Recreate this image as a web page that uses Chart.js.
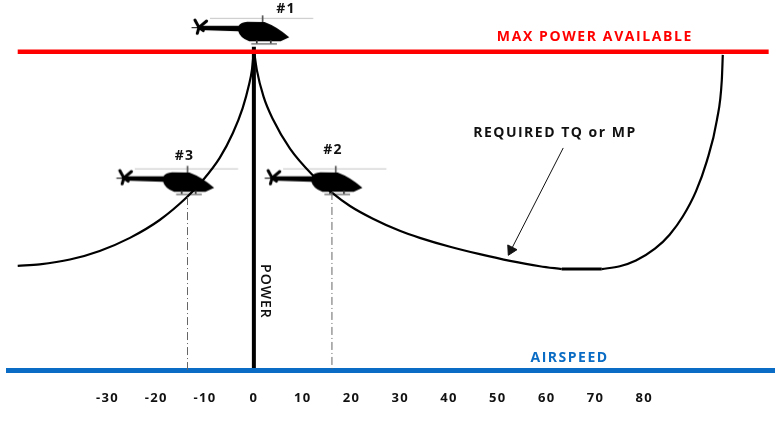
<!DOCTYPE html>
<html>
<head>
<meta charset="utf-8">
<style>html,body{margin:0;padding:0;background:#fff}#w{width:777px;height:426px}</style>
<script src="https://cdn.jsdelivr.net/npm/chart.js@4"></script>
</head>
<body>
<div id="w"><canvas id="c" width="777" height="426"></canvas></div>
<script>
const tickValues = [-30,-20,-10,0,10,20,30,40,50,60,70,80];
const leftCurve = [[-48.4,32.8],[-43.9,33.3],[-37.7,34.8],[-31.6,37.5],[-25.4,41.6],[-19.3,47.2],[-13.7,54.4],[-10.5,59.6],[-7.0,66.7],[-4.3,74.5],[-2.3,82.3],[-1.0,89.6],[-0.4,94.3],[0,100.5]];
const rightCurve = [[0,100.5],[0.6,94.3],[2,85.8],[3.9,78.8],[7.4,69.6],[12.1,61.2],[16,55.8],[19.7,51.6],[24.4,47.6],[29.9,43.8],[34,41.6],[40.2,38.8],[46.3,36.5],[52.5,34.4],[58.6,32.7],[63.1,31.8]];
const flatCurve = [[63.1,31.8],[71.3,31.8]];
const riseCurve = [[71.3,31.8],[75,32.7],[78.3,34.5],[82.2,38.2],[85.2,42.6],[87.9,48.3],[90.6,56.2],[92.8,65.5],[94.9,78.6],[95.9,91.1],[96.1,99]];
const maxPower = [[-48.4,100],[105.5,100]];
const airspeedLine = [[-50.8,0],[106.8,0]];
const powerLine = [[0,0],[0,101.5]];
const drop3 = [[-13.6,54.4],[-13.6,0]];
const drop2 = [[16,56],[16,0]];
const arrow = [[63.4,69.8],[52.7,37.8]];
const helicopters = [[-0.3,107.4],[14.7,60.2],[-15.7,60.2]];
const labels = ["MAX POWER AVAILABLE","AIRSPEED","REQUIRED TQ or MP","POWER","#1","#2","#3"];
const labelX = [69.9,64.7,61.7,2.2,6.6,16.2,-14.2];
const labelY = [104.7,4.0,74.5,24.8,113.4,69.2,67.4];
const labelColor = ["#ff0000","#0a6cc4","#111111","#111111","#111111","#111111","#111111"];

function helicopterIcon(){
  const c=document.createElement('canvas');c.width=125;c.height=36;
  const g=c.getContext('2d');const s=1/3;
  g.scale(s,s);
  g.strokeStyle='#c4c4c4';g.lineWidth=3;
  g.beginPath();g.moveTo(60,25);g.lineTo(370,25);g.stroke();
  g.strokeStyle='#555';g.lineWidth=5;
  g.beginPath();g.moveTo(218,16);g.lineTo(218,40);g.stroke();
  g.strokeStyle='#000';g.fillStyle='#000';g.lineCap='round';
  g.lineWidth=9;
  g.beginPath();
  g.moveTo(15,30);g.lineTo(27,52);g.lineTo(22,70);
  g.moveTo(50,33);g.lineTo(27,52);g.lineTo(40,62);
  g.stroke();
  g.lineWidth=3;g.beginPath();g.moveTo(6,53);g.lineTo(30,53);g.stroke();
  g.beginPath();
  g.moveTo(27,47);g.lineTo(146,47);g.quadraticCurveTo(152,37,172,35);
  g.lineTo(224,36);g.quadraticCurveTo(262,50,298,82);
  g.lineTo(272,94);
  g.lineTo(178,94);g.quadraticCurveTo(150,84,145,64);g.lineTo(27,60);
  g.closePath();g.fill();
  g.fillStyle='#8a8a8a';g.fillRect(184,99,77,5);
  g.fillStyle='#333';g.fillRect(198,90,5,10);g.fillRect(240,90,5,10);
  return c;
}
const icon=helicopterIcon();

const textPlugin={
  id:'chartText',
  beforeDraw(ch){
    ch.ctx.letterSpacing='1.3px';
  },
  afterDatasetsDraw(ch){
    const g=ch.ctx,xs=ch.scales.x,ys=ch.scales.y;
    labels.forEach((t,i)=>{
      g.save();
      g.letterSpacing= i===0 ? '1.6px' : (i<3 ? '1.5px' : (i===3?'1px':'1.2px'));
      g.fillStyle=labelColor[i];
      g.font=(i===3?'600':'700')+' 14px "Open Sans"';
      g.textAlign='center';g.textBaseline='middle';
      g.translate(xs.getPixelForValue(labelX[i]),ys.getPixelForValue(labelY[i]));
      if(t==="POWER")g.rotate(Math.PI/2);
      g.fillText(t,0,0);
      g.restore();
    });
  }
};
const line=(data,color,width,extra)=>Object.assign({
  data:data.map(p=>({x:p[0],y:p[1]})),borderColor:color,backgroundColor:color,
  borderWidth:width,pointRadius:0,showLine:true,clip:false,tension:0,
  borderCapStyle:'butt'},extra||{});
const curve={cubicInterpolationMode:'monotone'};

new Chart(document.getElementById('c'),{
  type:'scatter',
  data:{datasets:[
    line(drop3,'#666666',1,{borderDash:[8,3,1,3]}),
    line(drop2,'#666666',1,{borderDash:[8,3,1,3]}),
    line(airspeedLine,'#0a6cc4',5),
    line(maxPower,'#ff0000',4.5),
    line(powerLine,'#000000',4),
    line(leftCurve,'#000000',2.2,curve),
    line(rightCurve,'#000000',2.2,curve),
    line(flatCurve,'#000000',3),
    line(riseCurve,'#000000',2.2,curve),
    line(arrow,'#111111',1,{pointRadius:[0,6],pointStyle:'triangle',pointRotation:[0,207]}),
    {data:helicopters.map(p=>({x:p[0],y:p[1]})),pointStyle:icon,pointRadius:10,showLine:false,clip:false}
  ]},
  plugins:[textPlugin],
  options:{
    responsive:false,animation:false,
    layout:{autoPadding:false,padding:{left:6,right:2,top:0,bottom:0}},
    plugins:{legend:{display:false},tooltip:{enabled:false},title:{display:false}},
    scales:{
      x:{type:'linear',min:-50.8,max:106.8,
        grid:{display:false,drawTicks:false},border:{display:false},
        afterBuildTicks(a){a.ticks=tickValues.map(v=>({value:v}));},
        afterFit(a){a.height=55.5;},
        ticks:{autoSkip:false,maxRotation:0,padding:20,color:'#111111',font:{family:'"Open Sans"',size:13,weight:'700'},callback:v=>String(v)}},
      y:{type:'linear',display:false,min:0,max:116.2}
    }
  }
});
</script>
</body>
</html>
